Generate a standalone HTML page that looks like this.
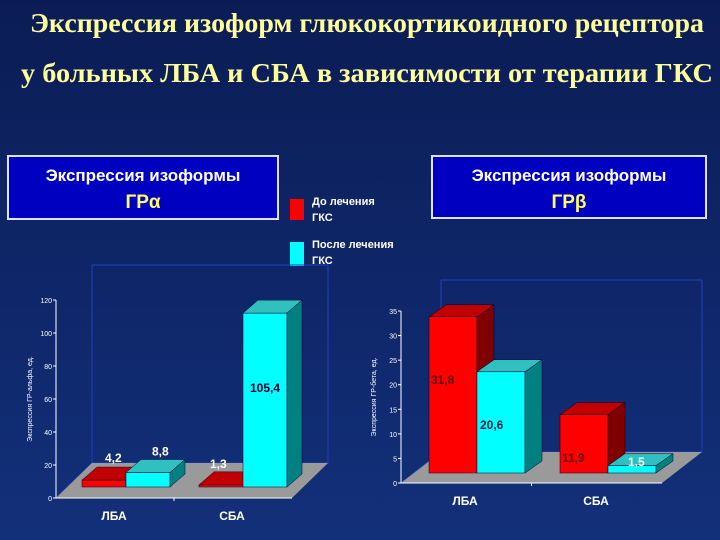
<!DOCTYPE html>
<html><head><meta charset="utf-8"><style>
html,body{margin:0;padding:0;}
body{width:720px;height:540px;overflow:hidden;background:linear-gradient(#0b1c55,#12307a);}
svg{display:block;font-family:"Liberation Sans",sans-serif;}
</style></head><body>
<svg id="s" width="720" height="540" viewBox="0 0 720 540">
<text x="367" y="32" text-anchor="middle" textLength="674" lengthAdjust="spacingAndGlyphs" font-family="Liberation Serif, serif" font-weight="bold" font-size="27" fill="#ffff9a">Экспрессия изоформ глюкокортикоидного рецептора</text>
<text x="367" y="82" text-anchor="middle" textLength="692" lengthAdjust="spacingAndGlyphs" font-family="Liberation Serif, serif" font-weight="bold" font-size="27" fill="#ffff9a">у больных  ЛБА и СБА в зависимости от терапии ГКС</text>

<g>
<rect x="8" y="156" width="270" height="63" fill="#0000c0" stroke="#e0e0ff" stroke-width="2"/>
<text x="143" y="181" text-anchor="middle" font-weight="bold" font-size="17" fill="#fff">Экспрессия изоформы</text>
<text x="143" y="208" text-anchor="middle" font-weight="bold" font-size="19" fill="#ffff60">ГРα</text>
</g>
<g>
<rect x="432" y="156" width="274" height="62" fill="#0000c0" stroke="#e0e0ff" stroke-width="2"/>
<text x="569" y="181" text-anchor="middle" font-weight="bold" font-size="17" fill="#fff">Экспрессия изоформы</text>
<text x="569" y="208" text-anchor="middle" font-weight="bold" font-size="19" fill="#ffff60">ГРβ</text>
</g>
<g>
<rect x="290" y="199" width="14" height="21" fill="#ff0000"/>
<text x="312" y="205" font-weight="bold" font-size="11" fill="#fff"><tspan x="312">До лечения</tspan><tspan x="312" dy="16">ГКС</tspan></text>
<rect x="290" y="242" width="14" height="24" fill="#00ffff"/>
<text x="312" y="248" font-weight="bold" font-size="11" fill="#fff"><tspan x="312">После лечения</tspan><tspan x="312" dy="16">ГКС</tspan></text>
</g>
<g id="chartA"></g>
<g id="chartB"></g>
</svg>
<script>
const categories = ["ЛБА", "СБА"];
const alphaBefore = [4.2, 1.3];
const alphaAfter = [8.8, 105.4];
const alphaTicks = [0, 20, 40, 60, 80, 100, 120];
const betaBefore = [31.8, 11.9];
const betaAfter = [20.6, 1.5];
const betaTicks = [0, 5, 10, 15, 20, 25, 30, 35];
const NS = "http://www.w3.org/2000/svg";
function mk(parent, tag, attrs, text) {
  const e = document.createElementNS(NS, tag);
  for (const k in attrs) e.setAttribute(k, attrs[k]);
  if (text !== undefined) e.textContent = text;
  parent.appendChild(e);
  return e;
}
function drawChart(g, cfg, before, after, ticks) {
  const maxV = ticks[ticks.length - 1];
  const yAxis = v => cfg.y0 - v / maxV * (cfg.y0 - cfg.yTop);
  const yBar = v => cfg.base - v / maxV * (cfg.y0 - cfg.yTop);
  const dx = cfg.dx, dy = cfg.dy;
  const wall = mk(g, "path", {d: `M${cfg.x0},${cfg.y0} L${cfg.x0 + cfg.wx},${cfg.y0 - cfg.wy} L${cfg.x0 + cfg.wx},${cfg.yTop - cfg.wy} M${cfg.x0 + cfg.wx},${cfg.y0 - cfg.wy} L${cfg.x1 + cfg.wx},${cfg.y0 - cfg.wy} L${cfg.x1 + cfg.wx},${cfg.yTop - cfg.wy} M${cfg.x0 + cfg.wx},${cfg.yTop - cfg.wy} L${cfg.x1 + cfg.wx},${cfg.yTop - cfg.wy}`, fill: "none", stroke: "#2040c0", "stroke-width": 1});
  
  
  const floor = mk(g, "polygon", {points: `${cfg.x0},${cfg.y0} ${cfg.x1},${cfg.y0} ${cfg.x1 + cfg.wx},${cfg.y0 - cfg.wy} ${cfg.x0 + cfg.wx},${cfg.y0 - cfg.wy}`, fill: "#9a9a9a"});
  
  
  const ax = mk(g, "path", {d: `M${cfg.x0},${cfg.yTop} L${cfg.x0},${cfg.y0} L${cfg.x1},${cfg.y0}`, fill: "none", stroke: "#fff", "stroke-width": 1});
  
  
  ticks.forEach(t => {
    const y = yAxis(t);
    const tl = mk(g, "line", {x1: cfg.x0 - 3, x2: cfg.x0, y1: y, y2: y, stroke: "#fff"});
    
    
    const tx = mk(g, "text", {x: cfg.x0 - 4, y: y + 3, "text-anchor": "end", "font-size": 7, fill: "#fff"}, String(t));
    
    
  });
  const yt = mk(g, "text", {transform: `translate(${cfg.titleX},${(cfg.y0 + cfg.yTop) / 2}) rotate(-90)`, "text-anchor": "middle", "font-size": 7, fill: "#fff"}, cfg.title);
  
  
  const mid = (cfg.x0 + cfg.x1) / 2;
  const xt = mk(g, "line", {x1: mid, x2: mid, y1: cfg.y0, y2: cfg.y0 + 3, stroke: "#fff"});
  
  
  categories.forEach((c, i) => {
    const series = [[before[i], "#ff0000", "#c00000", "#800000"], [after[i], "#00ffff", "#30c0c0", "#008080"]];
    series.forEach((s, j) => {
      const x = cfg.barX[i] + j * cfg.bw;
      const top = yBar(s[0]);
      const bg = mk(g, "g", {});
      
      
      mk(bg, "rect", {x: x, y: top, width: cfg.bw, height: cfg.base - top, fill: s[1], stroke: "#003", "stroke-width": 0.5});
      mk(bg, "polygon", {points: `${x},${top} ${x + dx},${top + dy} ${x + cfg.bw + dx},${top + dy} ${x + cfg.bw},${top}`, fill: s[2], stroke: "#003", "stroke-width": 0.5});
      mk(bg, "polygon", {points: `${x + cfg.bw},${top} ${x + cfg.bw + dx},${top + dy} ${x + cfg.bw + dx},${cfg.base + dy} ${x + cfg.bw},${cfg.base}`, fill: s[3], stroke: "#003", "stroke-width": 0.5});
      const lab = cfg.labelPos(i, j, x, top);
      const lt = mk(g, "text", {x: lab[0], y: lab[1], "font-weight": "bold", "font-size": 12, fill: lab[2]}, s[0].toFixed(1).replace(".", ","));
      
      
    });
    const cl = mk(g, "text", {x: cfg.catX[i], y: cfg.y0 + 22, "text-anchor": "middle", "font-weight": "bold", "font-size": 12, fill: "#fff"}, c);
    
    
  });
}
drawChart(document.getElementById("chartA"), {
  x0: 56, x1: 292, y0: 498, yTop: 300, base: 487, wx: 36, wy: 35, dx: 15, dy: -13,
  bw: 44, barX: [82, 199], catX: [114, 232], titleX: 32, title: "Экспрессия ГР-альфа, ед.",
  labelPos: (i, j, x, top) => {
    if (i === 1 && j === 1) return [x + 7, top + 79, "#000030"];
    if (i === 0 && j === 0) return [x + 23, top - 18, "#fff"];
    if (i === 0 && j === 1) return [x + 26, top - 17, "#fff"];
    return [x + 11, top - 17, "#fff"];
  }
}, alphaBefore, alphaAfter, alphaTicks);
drawChart(document.getElementById("chartB"), {
  x0: 401, x1: 662, y0: 483, yTop: 311, base: 473, wx: 40, wy: 31, dx: 17, dy: -12,
  bw: 48, barX: [429, 560], catX: [465, 596], titleX: 376, title: "Экспрессия ГР-бета, ед.",
  labelPos: (i, j, x, top) => j === 0 ? [x + 2, i === 0 ? 384 : 462, "#600000"] : (i === 0 ? [x + 3, 429, "#002040"] : [x + 20, 466, "#fff"])
}, betaBefore, betaAfter, betaTicks);
</script>
</body></html>
